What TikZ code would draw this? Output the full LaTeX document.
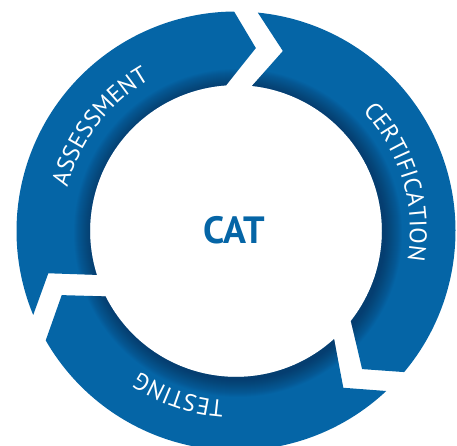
\documentclass[tikz,border=0pt]{standalone}
\usepackage{fontspec}
\setmainfont{PT Sans}
\usetikzlibrary{decorations.text}

\definecolor{catblue}{RGB}{5,101,166}
\definecolor{shadeblue}{RGB}{6,38,72}

\newcommand\ringfont{\fontsize{24}{24}\selectfont}

% ring radii
\newcommand\Ro{219.5}
\newcommand\Ri{146}

% the three arrow-shaped ring segments (clockwise flow)
\newcommand\assesspath{(202.5:\Ro) arc[start angle=202.5, end angle=90.5, radius=\Ro]
  -- (83.8:184) -- (93.9:\Ri) arc[start angle=93.9, end angle=197.5, radius=\Ri]
  -- (192.7:192.4) -- cycle}
\newcommand\certpath{(84.3:\Ro) arc[start angle=84.3, end angle=-40, radius=\Ro]
  -- (-47.6:187) -- (-38.1:\Ri) arc[start angle=-38.1, end angle=83.7, radius=\Ri]
  -- (75.4:186) -- cycle}
\newcommand\testpath{(-46.8:\Ro) arc[start angle=-46.8, end angle=-150.1, radius=\Ro]
  -- (-159.8:185.7) -- (-153.4:\Ri) arc[start angle=-153.4, end angle=-47.8, radius=\Ri]
  -- (-55.6:190) -- cycle}

\begin{document}
\begin{tikzpicture}[x=1pt, y=1pt,
  segment/.style={fill=catblue},
  innershade/.style={fill=shadeblue, opacity=0.04},
  ringtext/.style={decorate, decoration={text along path, text align={fit to path},
      text color=white, text={|\ringfont|#1}}}]
\useasboundingbox (-236,-215) rectangle (221,231);
\clip (-236,-215) rectangle (221,231);

% ring segments
\path[segment] \assesspath;
\path[segment] \certpath;
\path[segment] \testpath;

% soft shadow cast by the inner disc onto the ring
\begin{scope}
  \clip \assesspath \certpath \testpath;
  \foreach \i in {1,...,18}
    \path[innershade] (2,-2) circle[radius=\Ri+\i];
\end{scope}

% curved labels, read clockwise
\path[ringtext=ASSESSMENT]
  (165.5:174) arc[start angle=165.5, end angle=121, radius=174];
\path[ringtext=CERTIFICATION]
  (43.4:174) arc[start angle=43.4, end angle=-7.1, radius=174];
\path[ringtext=TESTING]
  (266:170) arc[start angle=266, end angle=237.5, radius=170];

% centre title
\node[text=catblue, font=\fontsize{38}{38}\selectfont\bfseries] (cat) at (-2,1) {CAT};
\end{tikzpicture}
\end{document}
